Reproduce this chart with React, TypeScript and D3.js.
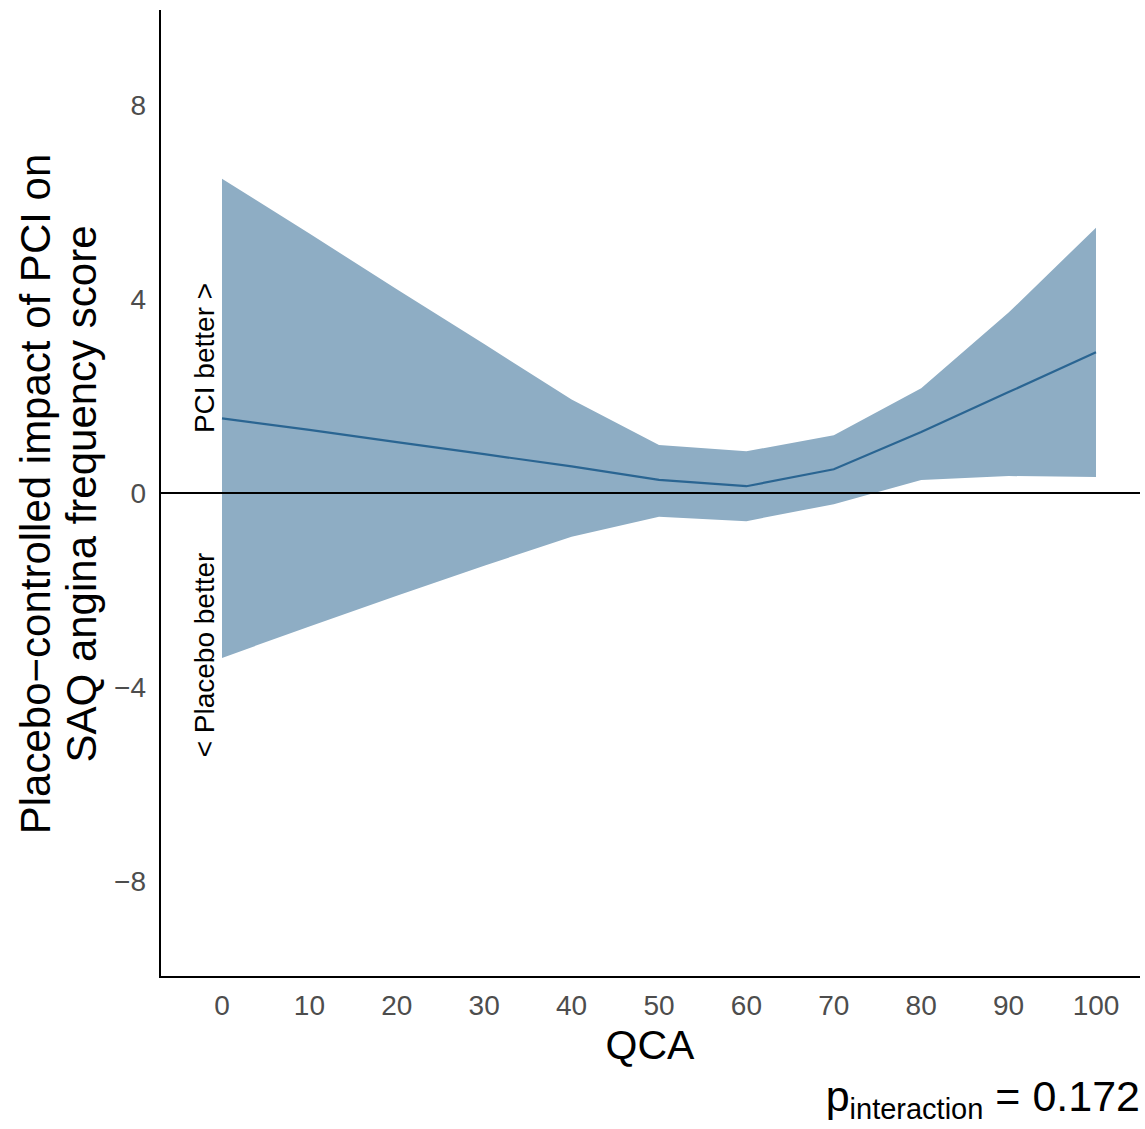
import React from "react";
import * as d3 from "d3";

const qca = [0, 10, 20, 30, 40, 50, 60, 70, 80, 90, 100];
const estimate = [1.54, 1.3, 1.05, 0.8, 0.55, 0.27, 0.14, 0.49, 1.26, 2.08, 2.9];
const upper = [6.48, 5.35, 4.2, 3.07, 1.93, 0.99, 0.86, 1.19, 2.16, 3.72, 5.47];
const lower = [-3.4, -2.75, -2.12, -1.5, -0.9, -0.49, -0.58, -0.23, 0.27, 0.35, 0.33];
const xTicks = [0, 10, 20, 30, 40, 50, 60, 70, 80, 90, 100];
const yTicks = [-8, -4, 0, 4, 8];

const FONT = "'Liberation Sans', Arial, sans-serif";

export default function App() {
  const x = d3.scaleLinear().domain([0, 100]).range([222, 1096]);
  const y = d3.scaleLinear().domain([-10, 10]).range([978, 8]);
  const left = 160, right = 1140, top = 10, bottom = 977;

  const rows = qca.map((q, i) => ({ q, e: estimate[i], u: upper[i], l: lower[i] }));
  const area = d3.area<any>().x(d => x(d.q)).y0(d => y(d.l)).y1(d => y(d.u));
  const line = d3.line<any>().x(d => x(d.q)).y(d => y(d.e));

  return (
    <svg width={1145} height={1129} style={{ position: "absolute", left: 0, top: 0, background: "#fff" }} fontFamily={FONT}>
      <path d={area(rows) || ""} fill="#8eadc4" />
      <path d={line(rows) || ""} fill="none" stroke="#2a6592" strokeWidth={2.2} />
      <line x1={left} x2={right} y1={y(0)} y2={y(0)} stroke="#000" strokeWidth={2} />
      <line x1={left} x2={left} y1={top} y2={bottom} stroke="#000" strokeWidth={2} />
      <line x1={left - 1} x2={right} y1={bottom} y2={bottom} stroke="#000" strokeWidth={2} />
      {yTicks.map(t => (
        <text key={t} x={146} y={y(t)} dy="0.36em" textAnchor="end" fontSize={28} fill="#4d4d4d">
          {t < 0 ? "\u2212" + Math.abs(t) : String(t)}
        </text>
      ))}
      {xTicks.map(t => (
        <text key={t} x={x(t)} y={1015} textAnchor="middle" fontSize={28} fill="#4d4d4d">{String(t)}</text>
      ))}
      <text x={650} y={1059} textAnchor="middle" fontSize={41} fill="#000">QCA</text>
      <text transform="translate(50,494) rotate(-90)" x={0} y={0} textAnchor="middle" fontSize={42} fill="#000">{"Placebo\u2212controlled impact of PCI on"}</text>
      <text transform="translate(96,494) rotate(-90)" x={0} y={0} textAnchor="middle" fontSize={42} fill="#000">SAQ angina frequency score</text>
      <text transform="translate(214,358) rotate(-90)" x={0} y={0} textAnchor="middle" fontSize={28} fill="#000">{"PCI better >"}</text>
      <text transform="translate(214,655) rotate(-90)" x={0} y={0} textAnchor="middle" fontSize={28} fill="#000">{"< Placebo better"}</text>
      <text x={1140} y={1111} textAnchor="end" fill="#000">
        <tspan fontSize={43}>p</tspan>
        <tspan fontSize={29} dy={8}>interaction</tspan>
        <tspan fontSize={43} dy={-8}>{" = 0.172"}</tspan>
      </text>
    </svg>
  );
}
